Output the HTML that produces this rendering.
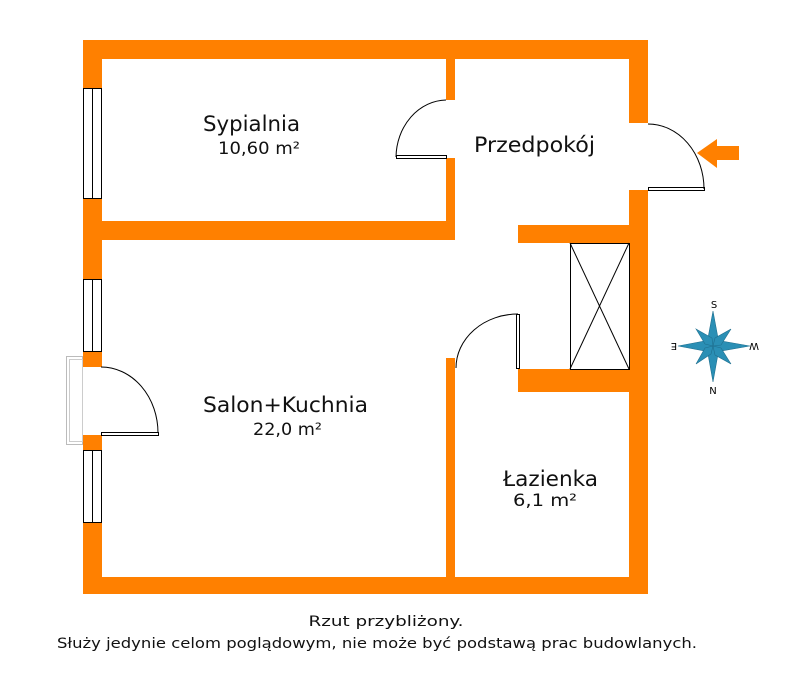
<!DOCTYPE html>
<html><head><meta charset="utf-8"><style>
html,body{margin:0;padding:0;background:#fff;}
svg{display:block;}
</style></head><body>
<svg width="798" height="679" viewBox="0 0 798 679" xmlns="http://www.w3.org/2000/svg">
<g fill="#FF8000">
<rect x="83" y="40" width="565" height="19"/>
<rect x="83" y="577" width="565" height="17"/>
<rect x="83" y="40" width="19" height="48"/>
<rect x="83" y="198" width="19" height="81"/>
<rect x="83" y="351" width="19" height="16"/>
<rect x="83" y="435" width="19" height="15"/>
<rect x="83" y="522" width="19" height="72"/>
<rect x="629" y="40" width="19" height="83"/>
<rect x="629" y="190" width="19" height="404"/>
<rect x="83" y="221" width="372" height="19"/>
<rect x="446" y="40" width="9" height="60"/>
<rect x="446" y="158" width="9" height="82"/>
<rect x="518" y="225" width="130" height="18"/>
<rect x="518" y="369" width="130" height="23"/>
<rect x="446" y="358" width="9" height="236"/>
</g>
<g fill="#fff" stroke="#000" stroke-width="1">
<rect x="83.5" y="88.5" width="18" height="110"/><line x1="92.5" y1="88" x2="92.5" y2="198"/>
<rect x="83.5" y="279.5" width="18" height="72"/><line x1="92.5" y1="279" x2="92.5" y2="351"/>
<rect x="83.5" y="450.5" width="18" height="72"/><line x1="92.5" y1="450" x2="92.5" y2="522"/>
<rect x="396.5" y="155.5" width="50" height="3"/>
<rect x="101.5" y="432.5" width="57" height="3"/>
<rect x="648.5" y="187.5" width="56" height="3"/>
<rect x="516.5" y="314.5" width="3" height="54"/>
<rect x="570.5" y="243.5" width="59" height="126"/>
</g>
<g fill="none" stroke="#000" stroke-width="1">
<line x1="570" y1="243" x2="629" y2="369"/><line x1="629" y1="243" x2="570" y2="369"/>
<path d="M446,100 A51,58 0 0 0 396,157"/>
<path d="M101,367 A57,66 0 0 1 158,433"/>
<path d="M648,124 A56,65 0 0 1 704,189"/>
<path d="M518,314 A62,54 0 0 0 456,368"/>
</g>
<rect x="66.5" y="356.5" width="16" height="88" fill="none" stroke="#bbb"/>
<rect x="69.5" y="359.5" width="13" height="82" fill="none" stroke="#ccc"/>
<polygon points="697,153 717,139 717,146 739,146 739,160 717,160 717,168" fill="#FF8000"/>
<g fill="#2a8fb5" stroke="#1f6f8f" stroke-width="0.6">
<polygon points="713,311 718,338 713,346 708,338"/>
<polygon points="713,382 708,354 713,346 718,354"/>
<polygon points="678,346 705,341 713,346 705,351"/>
<polygon points="750,346 721,351 713,346 721,341"/>
<polygon points="696,329 712,338 713,346 705,344"/>
<polygon points="731,329 721,345 713,346 715,338"/>
<polygon points="696,364 705,348 713,346 711,354"/>
<polygon points="731,364 715,355 713,346 721,348"/>
</g>
<g font-family="'DejaVu Sans',sans-serif" font-size="10" fill="#000" text-anchor="middle">
<text x="714" y="308">S</text><text x="713" y="394">N</text>
<text x="674" y="349" transform="rotate(180 674 346)">E</text>
<text x="754" y="349" transform="rotate(180 754 346)">W</text>
</g>
<g font-family="'DejaVu Sans','Liberation Sans',sans-serif" fill="#111">
<text x="203" y="131" font-size="21" textLength="97" lengthAdjust="spacingAndGlyphs">Sypialnia</text>
<text x="218" y="154" font-size="17" textLength="82" lengthAdjust="spacingAndGlyphs">10,60 m²</text>
<text x="474" y="152" font-size="21" textLength="121" lengthAdjust="spacingAndGlyphs">Przedpokój</text>
<text x="203" y="412" font-size="21" textLength="165" lengthAdjust="spacingAndGlyphs">Salon+Kuchnia</text>
<text x="253" y="435" font-size="17" textLength="69" lengthAdjust="spacingAndGlyphs">22,0 m²</text>
<text x="503" y="486" font-size="21" textLength="95" lengthAdjust="spacingAndGlyphs">Łazienka</text>
<text x="513" y="506" font-size="17" textLength="64" lengthAdjust="spacingAndGlyphs">6,1 m²</text>
</g>
<g font-family="'DejaVu Sans','Liberation Sans',sans-serif" fill="#111" text-anchor="middle">
<text x="386" y="626" font-size="14" textLength="155" lengthAdjust="spacingAndGlyphs">Rzut przybliżony.</text>
<text x="377" y="648" font-size="14" textLength="640" lengthAdjust="spacingAndGlyphs">Służy jedynie celom poglądowym, nie może być podstawą prac budowlanych.</text>
</g>
</svg>
</body></html>
